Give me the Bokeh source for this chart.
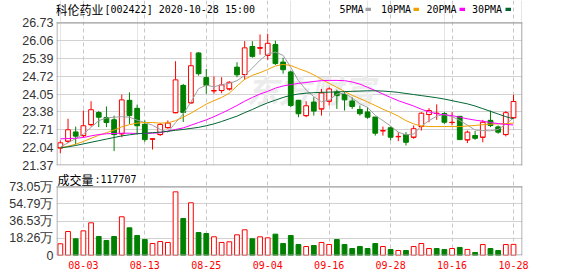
from bokeh.plotting import figure
from bokeh.layouts import column
from bokeh.models import (Range1d, FixedTicker, NumeralTickFormatter, Grid, Label,
                          ColumnDataSource, BoxAnnotation)
from bokeh.embed import file_html
from bokeh.resources import INLINE

# ---------------- data ----------------
dates = ["07-29", "07-30", "07-31", "08-03", "08-04", "08-05", "08-06", "08-07", "08-10", "08-11",
         "08-12", "08-13", "08-14", "08-17", "08-18", "08-19", "08-20", "08-21", "08-24", "08-25",
         "08-26", "08-27", "08-28", "08-31", "09-01", "09-02", "09-03", "09-04", "09-07", "09-08",
         "09-09", "09-10", "09-11", "09-14", "09-15", "09-16", "09-17", "09-18", "09-21", "09-22",
         "09-23", "09-24", "09-25", "09-28", "09-29", "09-30", "10-09", "10-12", "10-13", "10-14",
         "10-15", "10-16", "10-19", "10-20", "10-21", "10-22", "10-23", "10-26", "10-27", "10-28"]

opens = [22.03, 22.28, 22.62, 22.49, 22.90, 23.35, 23.17, 23.08, 22.56, 23.81,
         23.51, 22.91, 22.36, 22.53, 22.79, 23.35, 24.37, 23.72, 25.58, 24.66,
         24.17, 24.18, 24.24, 25.05, 24.78, 25.83, 25.77, 25.50, 25.90, 25.24,
         24.87, 23.81, 23.24, 23.74, 23.49, 23.78, 24.12, 24.03, 23.78, 23.47,
         23.37, 23.18, 22.67, 22.78, 22.45, 22.53, 22.43, 22.83, 23.28, 23.32,
         23.31, 22.98, 23.21, 22.33, 22.49, 22.43, 23.06, 22.81, 22.53, 23.16]
highs = [22.31, 23.12, 22.83, 23.43, 23.78, 23.41, 23.58, 23.24, 24.03, 24.11,
         23.65, 23.06, 22.37, 22.96, 23.06, 25.28, 24.43, 25.62, 25.62, 24.99,
         24.71, 24.68, 24.53, 25.24, 26.03, 26.03, 26.28, 26.31, 26.05, 25.41,
         24.93, 23.83, 23.78, 23.93, 24.24, 24.30, 24.21, 24.12, 23.93, 23.62,
         23.56, 23.19, 22.83, 22.83, 22.62, 22.62, 22.87, 23.37, 23.52, 23.66,
         23.37, 23.37, 23.21, 22.68, 22.66, 23.08, 23.43, 22.87, 23.41, 24.02]
lows = [21.83, 22.21, 22.16, 22.41, 22.83, 22.81, 22.81, 21.91, 22.43, 22.93,
        22.53, 22.26, 21.97, 22.48, 22.75, 23.33, 23.00, 23.68, 24.74, 24.06,
        24.06, 24.08, 24.18, 24.68, 24.58, 25.41, 25.53, 25.33, 25.14, 24.81,
        23.56, 23.18, 23.18, 23.24, 23.24, 23.62, 23.49, 23.43, 23.49, 23.24,
        23.12, 22.49, 22.49, 22.31, 22.28, 22.12, 22.37, 22.68, 22.99, 23.08,
        22.93, 22.87, 22.34, 22.21, 22.33, 22.24, 22.81, 22.56, 22.46, 23.12]
closes = [22.22, 22.71, 22.47, 22.86, 23.46, 23.18, 22.98, 22.53, 23.83, 23.24,
          22.86, 22.34, 22.37, 22.91, 22.96, 24.58, 23.36, 25.11, 24.81, 24.37,
          24.18, 24.39, 24.49, 24.77, 25.78, 25.46, 25.79, 25.95, 25.19, 24.96,
          23.62, 23.31, 23.61, 23.41, 24.09, 24.24, 23.99, 23.83, 23.58, 23.31,
          23.18, 22.58, 22.68, 22.43, 22.46, 22.24, 22.75, 23.33, 23.43, 23.33,
          22.99, 22.99, 22.34, 22.62, 22.39, 22.99, 22.87, 22.62, 23.35, 23.77]

ma5 = [22.06, 22.22, 22.38, 22.55, 22.80, 23.05, 23.15, 23.18, 23.20, 23.18,
       23.07, 22.98, 22.88, 22.72, 22.62, 22.98, 23.30, 23.75, 24.25, 24.38,
       24.32, 24.40, 24.45, 24.55, 24.75, 25.02, 25.32, 25.55, 25.62, 25.50,
       25.05, 24.55, 24.20, 23.95, 23.76, 23.82, 24.05, 24.08, 23.90, 23.68,
       23.55, 23.25, 23.05, 22.85, 22.62, 22.52, 22.55, 22.85, 23.05, 23.22,
       23.28, 23.20, 23.06, 22.88, 22.70, 22.68, 22.67, 22.72, 22.92, 23.15]
ma10 = [22.03, 22.09, 22.17, 22.27, 22.39, 22.50, 22.60, 22.70, 22.82, 22.90,
        22.96, 22.98, 22.98, 22.96, 22.97, 23.05, 23.18, 23.33, 23.50, 23.67,
        23.80, 23.92, 24.08, 24.35, 24.60, 24.75, 24.85, 24.97, 25.10, 25.16,
        25.12, 25.00, 24.90, 24.77, 24.60, 24.45, 24.30, 24.15, 24.00, 23.88,
        23.75, 23.62, 23.48, 23.36, 23.22, 23.05, 22.93, 22.85, 22.83, 22.83,
        22.83, 22.83, 22.83, 22.85, 22.87, 22.90, 22.92, 22.93, 22.94, 22.96]
ma20 = [22.37, 22.38, 22.39, 22.42, 22.48, 22.53, 22.56, 22.57, 22.58, 22.58,
        22.57, 22.57, 22.58, 22.60, 22.66, 22.72, 22.78, 22.88, 22.98, 23.08,
        23.20, 23.33, 23.47, 23.62, 23.78, 23.92, 24.05, 24.15, 24.27, 24.35,
        24.40, 24.45, 24.48, 24.52, 24.55, 24.56, 24.56, 24.55, 24.50, 24.42,
        24.30, 24.18, 24.05, 23.92, 23.80, 23.70, 23.60, 23.48, 23.38, 23.31,
        23.27, 23.24, 23.18, 23.12, 23.07, 23.03, 22.98, 22.94, 22.91, 22.89]
ma30 = [22.03, 22.07, 22.12, 22.18, 22.24, 22.30, 22.36, 22.42, 22.48, 22.52,
        22.56, 22.58, 22.60, 22.62, 22.65, 22.69, 22.72, 22.76, 22.80, 22.86,
        22.93, 23.02, 23.12, 23.22, 23.35, 23.47, 23.60, 23.72, 23.82, 23.92,
        24.00, 24.05, 24.08, 24.10, 24.11, 24.12, 24.13, 24.14, 24.15, 24.16,
        24.17, 24.17, 24.16, 24.14, 24.11, 24.07, 24.03, 23.99, 23.95, 23.91,
        23.86, 23.80, 23.74, 23.68, 23.60, 23.50, 23.40, 23.30, 23.20, 23.12]

volume = [124000, 254000, 177000, 261000, 346000, 201000, 159000, 201000, 410000, 293000,
          212000, 169000, 127000, 148000, 138000, 674000, 392000, 558000, 243000, 233000,
          198000, 138000, 145000, 219000, 272000, 177000, 198000, 187000, 226000, 127000,
          212000, 116000, 95000, 106000, 138000, 116000, 169000, 116000, 74000, 95000,
          74000, 127000, 95000, 64000, 53000, 53000, 95000, 127000, 74000, 74000,
          64000, 74000, 85000, 64000, 32000, 116000, 74000, 53000, 116000, 117707]
vol_up = [1, 1, 0, 1, 1, 0, 0, 0, 1, 0,
          0, 0, 1, 1, 1, 1, 0, 1, 0, 0,
          1, 1, 1, 1, 1, 0, 1, 1, 0, 0,
          0, 0, 1, 0, 1, 1, 0, 0, 0, 0,
          0, 0, 1, 0, 1, 0, 1, 1, 1, 0,
          0, 1, 0, 1, 0, 1, 0, 0, 1, 1]

price_ticks = [21.37, 22.04, 22.71, 23.38, 24.05, 24.72, 25.39, 26.06, 26.73]
vol_ticks = [0, 182625, 365250, 547875, 730500]
vol_tick_labels = ["0", "18.26万", "36.53万", "54.79万", "73.05万"]
date_ticks = ["08-03", "08-13", "08-25", "09-04", "09-16", "09-28", "10-16", "10-28"]

title_name = "科伦药业"
title_rest = "[002422] 2020-10-28 15:00"
legend_names = ["5PMA", "10PMA", "20PMA", "30PMA"]
vol_title = "成交量"
vol_value = ":117707"
watermark = "东方财富"

# ---------------- styling ----------------
RED = "#ff0000"
GREEN = "#008000"
MA_COLORS = ["#a0a0a0", "#f0a000", "#ff00ff", "#006633"]
GRID = "#d2d2d2"
VGRID = "#c8c8c8"
OUTLINE = "#9a9a9a"
LABEL = "#333333"
NUM_FONT = "Liberation Sans"
MONO = "DejaVu Sans Mono"
CJK = "Noto Sans CJK SC"

W = 578
FL, FR = 56, 522          # plot box left / right (page px)
X0, X1 = -0.5, 60.17
P_H = 172                 # price figure height (page 0..172)
P_TOP, P_BOT = 22, 165    # price box in page px
V_Y0 = P_H                # volume figure starts here
V_TOP, V_BOT = 186, 255   # volume box in page px
V_H = 276 - P_H
YMIN, YMAX = price_ticks[0], price_ticks[-1]
VMAX = vol_ticks[-1]
KY = (YMAX - YMIN) / (P_BOT - P_TOP)      # price per px
KV = VMAX / (V_BOT - V_TOP)               # volume per px
KX = (X1 - X0) / (FR - FL)                # index per px


def sx(px):
    return X0 + (px - FL) * KX


def sy(py):
    return YMIN + (P_BOT - py) * KY


def sv(py):
    return (V_BOT - py) * KV


def border_boxes(fig, ylo, yhi, ky):
    # 1px frame lines of the plot box, drawn inside the (taller) frame
    for l, r, b, t in [(X0, X0 + KX, ylo, yhi), (X1 - KX, X1, ylo, yhi),
                       (X0, X1, ylo, ylo + ky), (X0, X1, yhi - ky, yhi)]:
        fig.add_layout(BoxAnnotation(left=l, right=r, bottom=b, top=t, fill_color=OUTLINE,
                                     fill_alpha=1.0, line_color=None))


idx = list(range(len(dates)))
up = [c >= o for o, c in zip(opens, closes)]
src = ColumnDataSource(dict(
    x=idx, o=opens, h=highs, l=lows, c=closes,
    top=[max(o, c) for o, c in zip(opens, closes)],
    bot=[min(o, c) for o, c in zip(opens, closes)],
    x0=[i - 0.31 for i in idx], x1=[i + 0.31 for i in idx],
    color=[RED if u else GREEN for u in up],
    fill=["#ffffff" if u else GREEN for u in up],
))
vsrc = ColumnDataSource(dict(
    x=idx, v=volume,
    color=[RED if u else GREEN for u in vol_up],
    fill=["#ffffff" if u else GREEN for u in vol_up],
))

tick_idx = [dates.index(d) for d in date_ticks]
x_range = Range1d(X0, X1)

# ---------------- price panel (frame reaches the page top for the header) ----------------
p = figure(width=W, height=P_H, x_range=x_range,
           y_range=Range1d(YMIN, YMAX + P_TOP * KY),
           output_backend="svg", toolbar_location=None, tools="", title=None,
           x_axis_location=None,
           min_border_left=FL, min_border_right=W - FR,
           min_border_top=0, min_border_bottom=P_H - P_BOT)
p.background_fill_color = "white"
p.border_fill_color = "white"
p.outline_line_color = None

p.yaxis.ticker = FixedTicker(ticks=price_ticks)
p.yaxis.formatter = NumeralTickFormatter(format="0.00")
p.yaxis.axis_line_color = None
p.yaxis.major_tick_line_color = None
p.yaxis.minor_tick_line_color = None
p.yaxis.major_tick_out = 0
p.yaxis.major_label_standoff = 3
p.yaxis.major_label_text_font = NUM_FONT
p.yaxis.major_label_text_font_size = "12.5px"
p.yaxis.major_label_text_color = LABEL
p.ygrid.ticker = FixedTicker(ticks=price_ticks)
p.ygrid.grid_line_color = GRID
p.add_layout(Grid(dimension=0, ticker=FixedTicker(ticks=tick_idx), bounds=(YMIN, YMAX),
                  grid_line_color=VGRID, grid_line_dash="4 3"))

p.add_layout(Label(x=sx(310), y=sy(88), text=watermark, text_font=CJK,
                   text_font_size="32px", text_font_style="bold italic",
                   text_color="#ececec", text_align="center", text_baseline="middle",
                   level="underlay"))

p.segment(x0="x", y0="l", x1="x", y1="h", line_color="color", line_width=1, source=src)
p.vbar(x="x", width=0.62, top="top", bottom="bot", fill_color="fill",
       line_color="color", line_width=1, source=src)
p.segment(x0="x0", y0="o", x1="x1", y1="o", line_color="color", line_width=1, source=src)

for vals, col in zip([ma5, ma10, ma20, ma30], MA_COLORS):
    p.line(idx, vals, line_color=col, line_width=1)

border_boxes(p, YMIN, YMAX, KY)

# header
p.add_layout(Label(x=sx(55), y=sy(8.5), text=title_name, text_font=CJK, text_font_size="12px",
                   text_color="#000000", text_baseline="middle", text_align="left"))
p.add_layout(Label(x=sx(104), y=sy(8.5), text=title_rest, text_font=MONO, text_font_size="10px",
                   text_color="#000000", text_baseline="middle", text_align="left"))
# legend
leg_text_x = [339, 380.5, 426, 471.5]
leg_box_x = [365, 413, 459, 505]
for name, tx, bx, col in zip(legend_names, leg_text_x, leg_box_x, MA_COLORS):
    p.add_layout(Label(x=sx(tx), y=sy(8.5), text=name, text_font=MONO, text_font_size="10px",
                       text_color="#000000", text_baseline="middle", text_align="left"))
    p.add_layout(BoxAnnotation(left=sx(bx), right=sx(bx + 5.5), top=sy(7.3), bottom=sy(10.5),
                               fill_color=col, fill_alpha=1.0, line_color=None))

# ---------------- volume panel (frame reaches up to hold its caption) ----------------
v = figure(width=W, height=V_H, x_range=x_range,
           y_range=Range1d(0, (V_BOT - V_Y0) * KV),
           output_backend="svg", toolbar_location=None, tools="", title=None,
           min_border_left=FL, min_border_right=W - FR,
           min_border_top=0, min_border_bottom=276 - V_BOT)
v.background_fill_color = "white"
v.border_fill_color = "white"
v.outline_line_color = None

v.yaxis.ticker = FixedTicker(ticks=vol_ticks)
v.yaxis.major_label_overrides = {t: s for t, s in zip(vol_ticks, vol_tick_labels)}
v.yaxis.axis_line_color = None
v.yaxis.major_tick_line_color = None
v.yaxis.minor_tick_line_color = None
v.yaxis.major_tick_out = 0
v.yaxis.major_label_standoff = 3
v.yaxis.major_label_text_font = NUM_FONT
v.yaxis.major_label_text_font_size = "12.5px"
v.yaxis.major_label_text_color = LABEL
v.ygrid.ticker = FixedTicker(ticks=vol_ticks)
v.ygrid.grid_line_color = GRID

v.xaxis.ticker = FixedTicker(ticks=tick_idx)
v.xaxis.major_label_overrides = {i: d for i, d in zip(tick_idx, date_ticks)}
v.xaxis.axis_line_color = None
v.xaxis.major_tick_line_color = None
v.xaxis.minor_tick_line_color = None
v.xaxis.major_tick_out = 0
v.xaxis.major_label_standoff = 5
v.xaxis.major_label_text_font = MONO
v.xaxis.major_label_text_font_size = "10px"
v.xaxis.major_label_text_color = RED
v.xgrid.grid_line_color = VGRID
v.xgrid.grid_line_dash = "4 3"
v.xgrid.bounds = (0, VMAX)

v.vbar(x="x", width=0.62, top="v", bottom=0, fill_color="fill", line_color="color",
       line_width=1, source=vsrc)

border_boxes(v, 0, VMAX, KV)

v.add_layout(Label(x=sx(57), y=sv(178.8), text=vol_title, text_font=CJK, text_font_size="12px",
                   text_color="#000000", text_baseline="middle", text_align="left"))
v.add_layout(Label(x=sx(94), y=sv(178.8), text=vol_value, text_font=MONO, text_font_size="10px",
                   text_color="#000000", text_baseline="middle", text_align="left"))

layout = column(p, v, spacing=0)
open("out.html", "w").write(file_html(layout, INLINE))
